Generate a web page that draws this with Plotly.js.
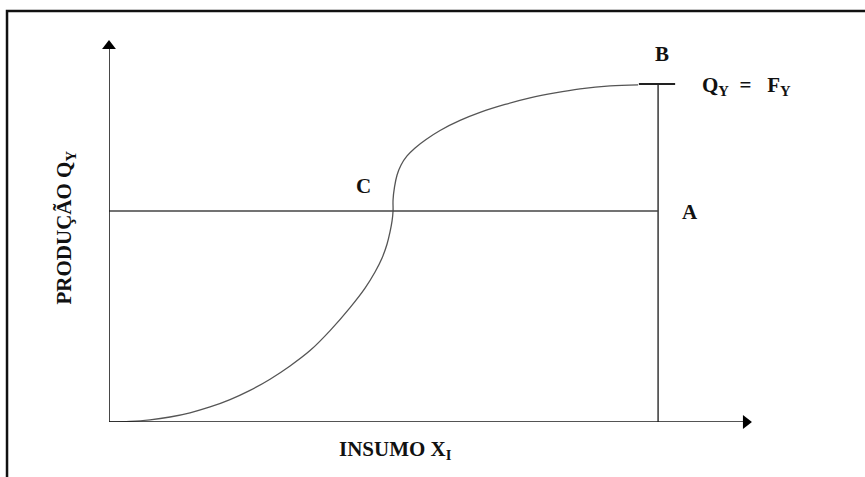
<!DOCTYPE html>
<html>
<head>
<meta charset="utf-8">
<script src="https://cdn.plot.ly/plotly-3.0.1.min.js"></script>
<style>
  body { margin: 0; background: #fff; }
  #chart { width: 865px; height: 477px; }
</style>
</head>
<body>
<div id="chart"></div>
<script>
// production curve (input x, output y)
var curveX = [0, 3.83, 7.47, 11.11, 14.75, 18.40, 22.04, 25.68, 29.33, 32.97, 36.61, 40.26, 43.90, 46.63, 48.45,
              49.73, 50.64, 51.18, 51.55, 51.73,
              51.73, 52.00, 52.46, 53.19, 54.28, 55.74, 57.74, 60.29, 63.93, 67.58, 72.13, 76.68, 81.24, 85.79, 91.26, 96.36];
var curveY = [0, 0.18, 0.65, 1.48, 2.72, 4.44, 6.63, 9.35, 12.66, 16.57, 21.12, 27.04, 33.85, 39.62, 44.38,
              48.52, 52.66, 56.21, 59.47, 62.43,
              65.68, 69.53, 73.08, 76.04, 78.70, 81.07, 83.58, 86.24, 89.20, 91.57, 93.93, 95.86, 97.34, 98.52, 99.41, 99.70];

var levelA = 62.4;      // horizontal line through C to A
var capX = 100;         // vertical line at A/B
var capY = 100;         // Q_Y = F_Y level
var capTick = [96.5, 103.1];
var xEnd = 117.1;
var yEnd = 113;

var labels = ['B', 'C', 'A'];
var labelX = [100.7, 46.3, 105.8];
var labelY = [108.9, 69.8, 62.1];

var lineCol = '#444';
var axisCol = '#1a1a1a';
var font = {family: '"Liberation Serif", "Times New Roman", serif', size: 21, color: '#111'};

var data = [];
data[0] = {
  x: curveX, y: curveY, mode: 'lines', type: 'scatter',
  line: {color: '#555', width: 1.3, shape: 'spline', smoothing: 1}
};
data[1] = {
  x: [0, capX], y: [levelA, levelA], mode: 'lines',
  line: {color: lineCol, width: 1.6}
};
data[2] = {
  x: [capX, capX], y: [0, capY], mode: 'lines',
  line: {color: lineCol, width: 1.6}
};
data[3] = {
  x: capTick, y: [capY, capY], mode: 'lines',
  line: {color: '#222', width: 2}
};
// axes with arrow heads
data[4] = {
  x: [0, 0], y: [0, yEnd - 2], mode: 'lines',
  line: {color: axisCol, width: 1.6}
};
data[5] = {
  x: [0, xEnd - 1.2], y: [0, 0], mode: 'lines',
  line: {color: axisCol, width: 1.6}
};
data[6] = {
  x: [0], y: [yEnd - 1.8], mode: 'markers',
  marker: {symbol: 'triangle-up', size: 12, color: '#000'}
};
data[7] = {
  x: [xEnd - 1.1], y: [0], mode: 'markers',
  marker: {symbol: 'triangle-right', size: 12, color: '#000'}
};
for (var k = 0; k < data.length; k++) { data[k].cliponaxis = false; }

var annotations = [];
for (var i = 0; i < labels.length; i++) {
  annotations.push({
    x: labelX[i], y: labelY[i], xref: 'x', yref: 'y', xanchor: 'center', yanchor: 'middle',
    text: '<b>' + labels[i] + '</b>', showarrow: false, font: font
  });
}
annotations.push({
  x: 107.7, y: 99.4, xref: 'x', yref: 'y', xanchor: 'left', yanchor: 'middle',
  text: '<b>Q<sub>Y</sub>&nbsp;&nbsp;=&nbsp;&nbsp;&nbsp;F<sub>Y</sub></b>', showarrow: false, font: font
});
annotations.push({
  x: 0.446, y: -0.073, xref: 'paper', yref: 'paper', xanchor: 'center', yanchor: 'middle',
  text: '<b>INSUMO X<sub>I</sub></b>', showarrow: false, font: font
});
annotations.push({
  x: -0.068, y: 0.51, xref: 'paper', yref: 'paper', xanchor: 'center', yanchor: 'middle',
  textangle: -90,
  text: '<b>PRODUÇÃO Q<sub>Y</sub></b>', showarrow: false, font: font
});

var layout = {
  width: 865,
  height: 477,
  margin: {l: 109, r: 113, t: 40, b: 55},
  showlegend: false,
  hovermode: false,
  paper_bgcolor: '#fff',
  plot_bgcolor: 'rgba(0,0,0,0)',
  xaxis: {range: [0, xEnd], visible: false, fixedrange: true},
  yaxis: {range: [0, yEnd], visible: false, fixedrange: true},
  annotations: annotations,
  shapes: [{
    type: 'path', xref: 'paper', yref: 'paper',
    path: 'M -0.1586,-0.2 L -0.1586,1.0759 L 1.2,1.0759',
    line: {color: '#111', width: 2.5}
  }]
};

Plotly.newPlot('chart', data, layout, {staticPlot: true});
</script>
</body>
</html>
